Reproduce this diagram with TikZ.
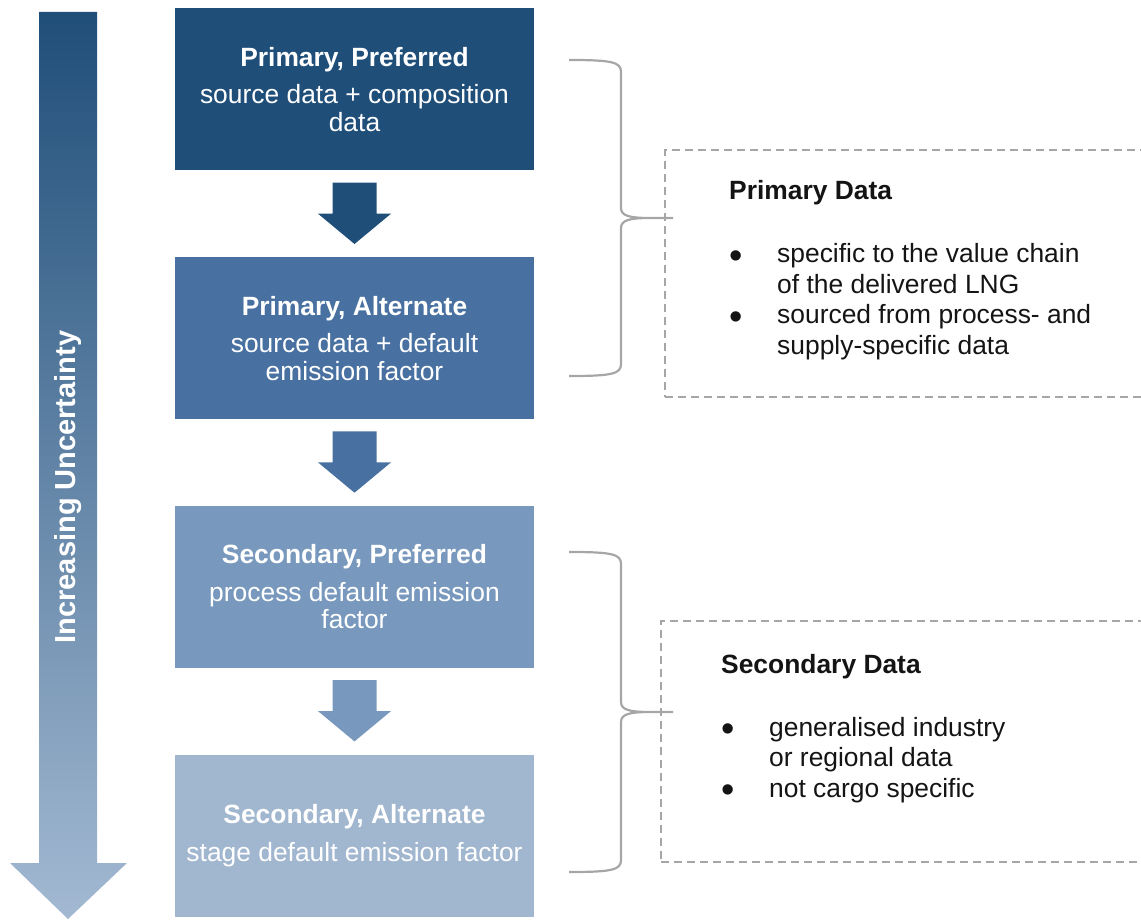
\documentclass[tikz,border=0pt]{standalone}
\usepackage{fontspec}
\setmainfont{Liberation Sans}
\usepackage{tikz}
\usetikzlibrary{calc,shapes}

\definecolor{cPP}{RGB}{31,78,121}
\definecolor{cPA}{RGB}{72,112,160}
\definecolor{cSP}{RGB}{120,153,189}
\definecolor{cSA}{RGB}{161,182,207}
\definecolor{cEnd}{RGB}{163,185,210}
\definecolor{braceGrey}{RGB}{166,166,166}
\definecolor{noteText}{RGB}{20,20,20}
\newcommand{\notebullet}{\raisebox{-5.4pt}{\fontsize{38}{30}\selectfont\textbullet}}

\begin{document}
\begin{tikzpicture}[x=1pt,y=-1pt,node distance=248.7pt]
\tikzstyle{stepbox}=[rectangle,minimum width=359pt,minimum height=162pt,inner sep=0pt,text=white,align=center,font=\fontsize{26.4}{27.5}\selectfont]
\tikzstyle{databox}=[rectangle,draw=braceGrey,line width=1.8pt,dash pattern=on 8pt off 5pt]
\tikzstyle{notetext}=[inner sep=0pt,text=noteText,font=\fontsize{26.4}{30.5}\selectfont]
\tikzstyle{notetitle}=[inner sep=0pt,text=noteText,font=\fontsize{26.4}{30.5}\selectfont\bfseries]
\tikzstyle{brace}=[draw=braceGrey,line width=2.2pt]
\useasboundingbox (0,0) rectangle (1141,920);
\clip (0,0) rectangle (1141,920);

% uncertainty arrow
\shade[top color=cPP,bottom color=cEnd] (39,12) -- (97,12) -- (97,863) -- (127,863) -- (68,919) -- (10,863) -- (39,863) -- cycle;
\node[rotate=90,text=white,font=\fontsize{29}{30}\selectfont\bfseries] (unc) at (68,487) {Increasing Uncertainty};

% steps
\node[stepbox,fill=cPP] (PP) at (354.5,89.5) {\textbf{Primary, Preferred}\\[10pt]source data + composition\\data};
\node[stepbox,fill=cPA] [below of=PP] (PA) {\textbf{Primary, Alternate}\\[10pt]source data + default\\emission factor};
\node[stepbox,fill=cSP] [below of=PA] (SP) {\textbf{Secondary, Preferred}\\[10pt]process default emission\\factor};
\node[stepbox,fill=cSA] [below of=SP] (SA) {\textbf{Secondary, Alternate}\\[10pt]stage default emission factor};

\foreach \a/\b in {PP/PA,PA/SP,SP/SA}
  \fill[fill=c\a] ($(\a.south)+(-22,12)$) -- ($(\a.south)+(22,12)$) -- ($(\a.south)+(22,43)$)
    -- ($(\a.south)+(36.5,43)$) -- ($(\b.north)+(0,-13)$) -- ($(\a.south)+(-36.5,43)$)
    -- ($(\a.south)+(-22,43)$) -- cycle;

% braces
\foreach \t/\m in {60/218,552/712}{
  \pgfmathsetmacro\bot{2*\m-\t}
  \draw[brace] (569,\t) .. controls (612,\t) and (621,\t+2) .. (621,\t+12)
    -- (621,\m-10) .. controls (621,\m-2) and (630,\m) .. (650,\m) -- (673,\m)
    (650,\m) .. controls (630,\m) and (621,\m+2) .. (621,\m+10)
    -- (621,\bot-12) .. controls (621,\bot-2) and (612,\bot) .. (569,\bot);
}

% notes
\node[databox,minimum width=495pt,minimum height=247pt] (PD) at (912.5,273.5) {};
\node[notetitle,anchor=base west] (PDtitle) at (729,200) {Primary Data};
\node[notetext,anchor=base west] (PDlist) at (729,263) {\begin{tabular}[t]{@{}p{48pt}@{}l@{}}
  \notebullet & specific to the value chain\\
  & of the delivered LNG\\
  \notebullet & sourced from process- and\\
  & supply-specific data
\end{tabular}};

\node[databox,minimum width=499pt,minimum height=241pt] (SD) at (910.5,741.5) {};
\node[notetitle,anchor=base west] (SDtitle) at (721,673) {Secondary Data};
\node[notetext,anchor=base west] (SDlist) at (721,736) {\begin{tabular}[t]{@{}p{48pt}@{}l@{}}
  \notebullet & generalised industry\\
  & or regional data\\
  \notebullet & not cargo specific
\end{tabular}};
\end{tikzpicture}
\end{document}
